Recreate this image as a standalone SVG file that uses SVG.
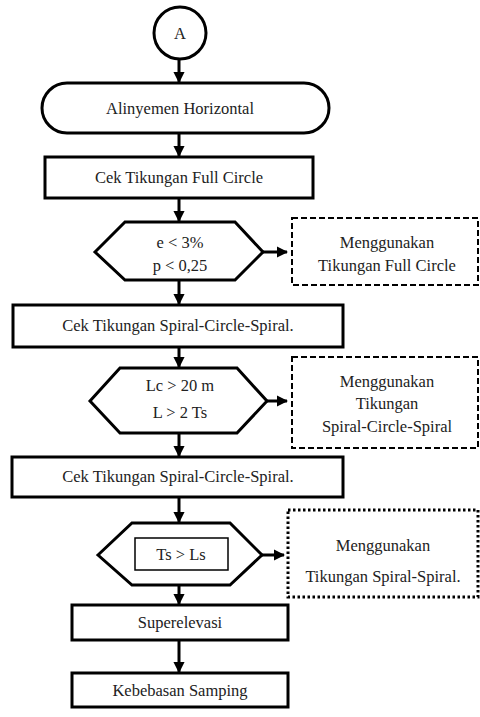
<svg xmlns="http://www.w3.org/2000/svg" width="480" height="717" viewBox="0 0 480 717">
<style>
.s{fill:#fff;stroke:#000;stroke-width:3}
.d{fill:#fff;stroke:#000;stroke-width:2;stroke-dasharray:6 3}
.o{fill:#fff;stroke:#000;stroke-width:3;stroke-dasharray:2.5 2.5}
.t{font-family:"Liberation Serif","Times New Roman",serif;font-size:16.5px;fill:#222;text-anchor:middle}
.c{stroke:#000;stroke-width:3;fill:none;marker-end:url(#ah)}
</style>
<defs>
<marker id="ah" viewBox="0 0 10 10" refX="9" refY="5" markerWidth="3.8" markerHeight="3.8" orient="auto" markerUnits="strokeWidth">
<path d="M0,0 L10,5 L0,10 Z" fill="#000"/>
</marker>
</defs>
<g id="connectors">
<line class="c" x1="179" y1="59" x2="179" y2="82"/>
<line class="c" x1="179" y1="133" x2="179" y2="156"/>
<line class="c" x1="179" y1="199" x2="179" y2="221"/>
<line class="c" x1="179" y1="281" x2="179" y2="304"/>
<line class="c" x1="179" y1="348" x2="179" y2="367"/>
<line class="c" x1="179" y1="434" x2="179" y2="456"/>
<line class="c" x1="179" y1="498" x2="179" y2="522"/>
<line class="c" x1="179" y1="586" x2="179" y2="604"/>
<line class="c" x1="179" y1="641" x2="179" y2="672"/>
<line class="c" x1="263" y1="252" x2="287" y2="252"/>
<line class="c" x1="267" y1="401" x2="287" y2="401"/>
<line class="c" x1="262" y1="555" x2="284" y2="555"/>
</g>
<g id="nodeA">
<circle class="s" cx="180" cy="33" r="26"/>
<text class="t" x="180" y="39">A</text>
</g>
<g id="n1">
<rect class="s" x="42" y="83" width="287" height="50" rx="25"/>
<text class="t" x="180" y="114">Alinyemen Horizontal</text>
</g>
<g id="n2">
<rect class="s" x="45" y="157" width="268" height="41"/>
<text class="t" x="179" y="183">Cek Tikungan Full Circle</text>
</g>
<g id="n3">
<polygon class="s" points="95,252 125,222 235,222 263,252 235,280 125,280"/>
<text class="t" x="180" y="248">e &lt; 3%</text>
<text class="t" x="180" y="271">p &lt; 0,25</text>
</g>
<g id="n4">
<rect class="d" x="292" y="218" width="186" height="67"/>
<text class="t" x="387" y="248">Menggunakan</text>
<text class="t" x="387" y="271">Tikungan Full Circle</text>
</g>
<g id="n5">
<rect class="s" x="13" y="305" width="330" height="42"/>
<text class="t" x="178" y="331">Cek Tikungan Spiral-Circle-Spiral.</text>
</g>
<g id="n6">
<polygon class="s" points="90,401 120,368 237,368 267,401 237,433 120,433"/>
<text class="t" x="180" y="391">Lc &gt; 20 m</text>
<text class="t" x="180" y="418">L &gt; 2 Ts</text>
</g>
<g id="n7">
<rect class="d" x="292" y="357" width="186" height="91"/>
<text class="t" x="387" y="387">Menggunakan</text>
<text class="t" x="387" y="409">Tikungan</text>
<text class="t" x="387" y="432">Spiral-Circle-Spiral</text>
</g>
<g id="n8">
<rect class="s" x="12" y="457" width="331" height="40"/>
<text class="t" x="178" y="482">Cek Tikungan Spiral-Circle-Spiral.</text>
</g>
<g id="n9">
<polygon class="s" points="98,555 132,523 230,523 262,555 230,585 132,585"/>
<rect fill="#fff" stroke="#000" stroke-width="1.5" x="135" y="538" width="93" height="32"/>
<text class="t" x="181" y="560">Ts &gt; Ls</text>
</g>
<g id="n10">
<rect class="o" x="288" y="510" width="190" height="87"/>
<text class="t" x="383" y="551">Menggunakan</text>
<text class="t" x="383" y="582">Tikungan Spiral-Spiral.</text>
</g>
<g id="n11">
<rect class="s" x="72" y="605" width="216" height="35"/>
<text class="t" x="180" y="628">Superelevasi</text>
</g>
<g id="n12">
<rect class="s" x="72" y="673" width="216" height="34"/>
<text class="t" x="180" y="696">Kebebasan Samping</text>
</g>
</svg>
